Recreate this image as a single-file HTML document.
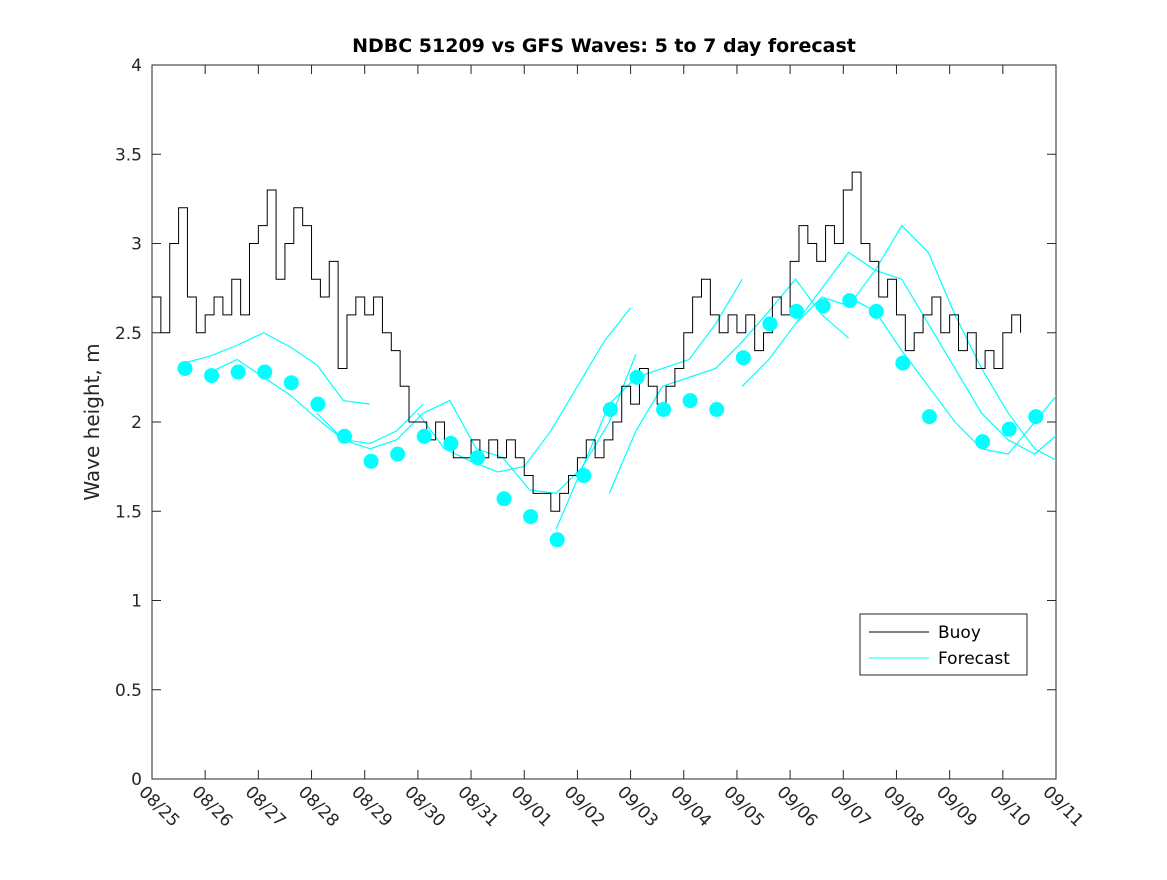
<!DOCTYPE html>
<html><head><meta charset="utf-8"><style>
html,body{margin:0;padding:0;background:#fff;}
svg text{font-family:"DejaVu Sans","Liberation Sans",sans-serif;}
</style></head><body>
<svg id="chart" width="1167" height="875" xmlns="http://www.w3.org/2000/svg">
<defs><clipPath id="pc"><rect x="152" y="65" width="904" height="714"/></clipPath></defs>
<rect x="0" y="0" width="1167" height="875" fill="#fff"/>
<rect x="152" y="65" width="904" height="714" fill="#fff" stroke="#262626" stroke-width="1"/>
<text x="604" y="52" text-anchor="middle" font-size="19" font-weight="bold" fill="#000">NDBC 51209 vs GFS Waves: 5 to 7 day forecast</text>
<text transform="translate(99,422) rotate(-90)" text-anchor="middle" font-size="20" fill="#262626">Wave height, m</text>
<g id="axes"></g>
<g id="series" clip-path="url(#pc)"></g>
<g>
<rect x="860" y="614" width="167" height="61" fill="#fff" stroke="#262626" stroke-width="1"/>
<line x1="869" y1="632" x2="929" y2="632" stroke="#000" stroke-width="1"/>
<text x="938" y="638" font-size="17" fill="#000">Buoy</text>
<line x1="869" y1="658" x2="929" y2="658" stroke="#00ffff" stroke-width="1"/>
<text x="938" y="664" font-size="17" fill="#000">Forecast</text>
</g>
</svg>
<script>
const xTickLabels=["08/25","08/26","08/27","08/28","08/29","08/30","08/31","09/01","09/02","09/03","09/04","09/05","09/06","09/07","09/08","09/09","09/10","09/11"];
const yTickLabels=["0","0.5","1","1.5","2","2.5","3","3.5","4"];
const yTickValues=[0,0.5,1,1.5,2,2.5,3,3.5,4];
// buoy: 6 samples per day starting day 0
const buoyValues=[2.7,2.5,3.0,3.2,2.7,2.5, 2.6,2.7,2.6,2.8,2.6,3.0, 3.1,3.3,2.8,3.0,3.2,3.1, 2.8,2.7,2.9,2.3,2.6,2.7, 2.6,2.7,2.5,2.4,2.2,2.0, 2.0,1.9,2.0,1.9,1.8,1.8, 1.9,1.8,1.9,1.8,1.9,1.8, 1.7,1.6,1.6,1.5,1.6,1.7, 1.8,1.9,1.8,1.9,2.0,2.2, 2.1,2.3,2.2,2.1,2.2,2.3, 2.5,2.7,2.8,2.6,2.5,2.6, 2.5,2.6,2.4,2.5,2.7,2.6, 2.9,3.1,3.0,2.9,3.1,3.0, 3.3,3.4,3.0,2.9,2.7,2.8, 2.6,2.4,2.5,2.6,2.7,2.5, 2.6,2.4,2.5,2.3,2.4,2.3, 2.5,2.6,2.5];
const buoyStep=1/6;
// forecast dots: every 0.5 day starting 0.62
const dotStart=0.62;
const dotValues=[2.30,2.26,2.28,2.28,2.22,2.10,1.92,1.78,1.82,1.92,1.88,1.80,1.57,1.47,1.34,1.70,2.07,2.25,2.07,2.12,2.07,2.36,2.55,2.62,2.65,2.68,2.62,2.33,2.03,null,1.89,1.96,2.03];
// forecast runs: start day, values every 0.5 day
const runStarts=[0.6,1.1,3.1,5.0,7.6,8.6,11.1,12.1,13.1];
const run1=[2.33,2.37,2.43,2.50,2.42,2.32,2.12,2.10];
const run2=[2.28,2.35,2.25,2.15,2.02,1.90,1.88,1.95,2.10];
const run3=[2.05,1.90,1.85,1.90,2.05,2.12,1.85,1.80,1.62,1.60,1.75,2.00,2.38];
const run4=[2.05,1.85,1.78,1.72,1.75,1.95,2.20,2.45,2.64];
const run5=[1.40,1.75,2.10,2.25,2.30,2.35,2.55,2.80];
const run6=[1.60,1.95,2.20,2.25,2.30,2.45,2.62,2.80,2.60,2.47];
const run7=[2.20,2.35,2.55,2.75,2.95,2.85,3.10,2.95,2.60,2.30,2.05,1.85,1.77,1.95,2.20,2.40];
const run8=[2.55,2.70,2.65,2.85,2.80,2.55,2.30,2.05,1.90,1.82,1.95,2.15,2.25,2.52];
const run9=[2.70,2.62,2.40,2.20,2.00,1.85,1.82,2.00,2.18];
const runs=[run1,run2,run3,run4,run5,run6,run7,run8,run9];

const NS="http://www.w3.org/2000/svg";
const X0=152,X1=1056,Y0=779,Y1=65;
const xs=d=>X0+(X1-X0)*d/17;
const ys=v=>Y0-(Y0-Y1)*v/4;
function mk(tag,attrs,parent){const e=document.createElementNS(NS,tag);for(const k in attrs)e.setAttribute(k,attrs[k]);parent.appendChild(e);return e;}
const axes=document.getElementById('axes');
const ser=document.getElementById('series');
xTickLabels.forEach((t,i)=>{
  const x=xs(i);
  const l1=mk('line',{x1:x,y1:Y0,x2:x,y2:Y0-9,stroke:'#262626'},axes);
  
  
  const l2=mk('line',{x1:x,y1:Y1,x2:x,y2:Y1+9,stroke:'#262626'},axes);
  
  
  const tx=mk('text',{x:0,y:0,'font-size':17,fill:'#262626',transform:`translate(${x-14},${Y0+14}) rotate(45)`},axes);
  tx.textContent=t;
  
  
});
yTickValues.forEach((v,i)=>{
  const y=ys(v);
  const l1=mk('line',{x1:X0,y1:y,x2:X0+9,y2:y,stroke:'#262626'},axes);
  
  
  const l2=mk('line',{x1:X1,y1:y,x2:X1-9,y2:y,stroke:'#262626'},axes);
  
  
  const tx=mk('text',{x:X0-10,y:y+6,'text-anchor':'end','font-size':17,fill:'#262626'},axes);
  tx.textContent=yTickLabels[i];
  
  
});
runs.forEach((r,k)=>{
  const pts=r.map((v,i)=>xs(runStarts[k]+i*0.5)+','+ys(v)).join(' ');
  const p=mk('polyline',{points:pts,fill:'none',stroke:'#00ffff','stroke-width':1.2},ser);
  
  
});
let bp=[];
buoyValues.forEach((v,i)=>{
  const x=xs(i*buoyStep),y=ys(v);
  if(i>0){bp.push(x+','+ys(buoyValues[i-1]));}
  bp.push(x+','+y);
});
const bl=mk('polyline',{points:bp.join(' '),fill:'none',stroke:'#000','stroke-width':1},ser);


dotValues.forEach((v,i)=>{
  if(v===null)return;
  const c=mk('circle',{cx:xs(dotStart+i*0.5),cy:ys(v),r:7.5,fill:'#00ffff'},ser);
  
  
});
</script>
</body></html>
